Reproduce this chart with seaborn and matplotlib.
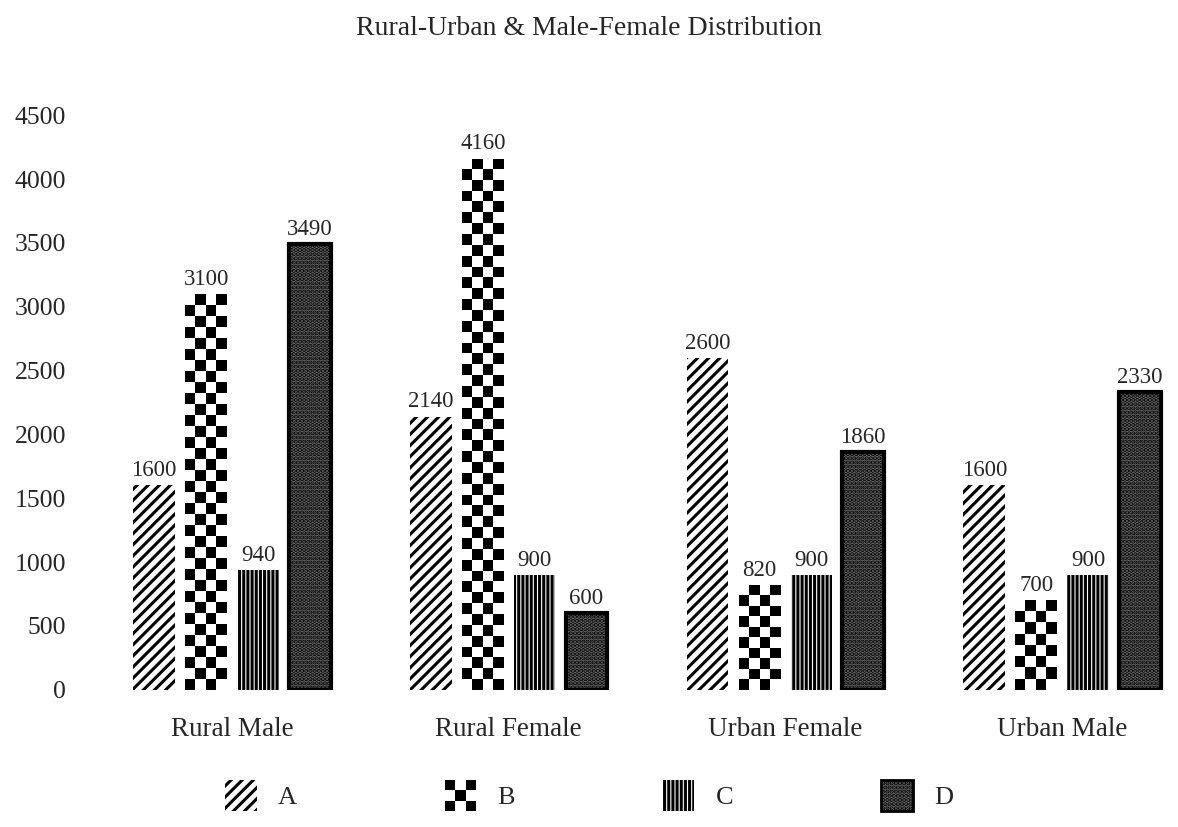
import numpy as np
import pandas as pd
import matplotlib
matplotlib.use("Agg")
import matplotlib.pyplot as plt
import matplotlib.patches as mpatches
from matplotlib.legend_handler import HandlerPatch
import seaborn as sns

# datos
grupos = ["Rural Male", "Rural Female", "Urban Female", "Urban Male"]
series = ["A", "B", "C", "D"]
valores_a = [1600, 2140, 2600, 1600]
valores_b = [3100, 4160, 820, 700]
valores_c = [940, 900, 900, 900]
valores_d = [3490, 600, 1860, 2330]

df = pd.DataFrame({
    "grupo": grupos * 4,
    "serie": [s for s in series for _ in grupos],
    "valor": valores_a + valores_b + valores_c + valores_d,
})

sns.set_style("white")
plt.rcParams["font.family"] = ["Liberation Serif", "DejaVu Serif"]
plt.rcParams["hatch.linewidth"] = 2.2

fig = plt.figure(figsize=(11.78, 8.27), dpi=100)
ax = fig.add_axes([0.068, 0.166, 0.932, 0.761])

sns.barplot(data=df, x="grupo", y="valor", hue="serie", order=grupos,
            hue_order=series, palette=["white"] * 4, width=0.75, gap=0.2,
            legend=False, ax=ax)

# tablero para la serie B
tablero = (np.add.outer(np.arange(60), np.arange(4)) % 2).astype(float)

for i, cont in enumerate(ax.containers):
    for bar in cont:
        if i == 0:
            bar.set_facecolor("white")
            bar.set_edgecolor("black")
            bar.set_linewidth(0)
            bar.set_hatch("///")
        elif i == 1:
            bar.set_facecolor("white")
            bar.set_linewidth(0)
            x0, w, h = bar.get_x(), bar.get_width(), bar.get_height()
            filas = int(round(h / 85))
            img = ax.imshow(tablero[:filas], cmap="gray_r", interpolation="nearest",
                            extent=[x0, x0 + w, 0, h], aspect="auto", zorder=2)
            img.set_clip_path(bar)
        elif i == 2:
            bar.set_facecolor("white")
            bar.set_edgecolor("black")
            bar.set_linewidth(0)
            bar.set_hatch("||||")
        else:
            bar.set_facecolor("#6f6f6f")
            bar.set_edgecolor("black")
            bar.set_linewidth(3)
            bar.set_hatch("....")
    ax.bar_label(cont, fontsize=16.5, padding=3)

ax.set_xlim(-0.549, 3.419)
ax.set_ylim(0, 4930)
ax.set_yticks(range(0, 5000, 500))
ax.set_xlabel("")
ax.set_ylabel("")
ax.tick_params(axis="y", length=0, labelsize=18.5, pad=10)
ax.tick_params(axis="x", length=0, labelsize=19.5, pad=20)
sns.despine(ax=ax, left=True, bottom=True)

fig.text(0.5, 0.965, "Rural-Urban & Male-Female Distribution",
         ha="center", va="center", fontsize=20)


class HandlerTablero(HandlerPatch):
    def create_artists(self, legend, orig_handle, xdescent, ydescent,
                       width, height, fontsize, trans):
        arts = []
        n = 3
        cw, ch = width / n, height / n
        for r in range(n):
            for c in range(n):
                color = "black" if (r + c) % 2 == 0 else "white"
                p = mpatches.Rectangle((-xdescent + c * cw, -ydescent + r * ch),
                                       cw, ch, facecolor=color, linewidth=0,
                                       transform=trans)
                arts.append(p)
        return arts


h_a = mpatches.Patch(facecolor="white", edgecolor="black", linewidth=0, hatch="///")
h_b = mpatches.Patch(facecolor="black")
h_c = mpatches.Patch(facecolor="white", edgecolor="black", linewidth=0, hatch="||||")
h_d = mpatches.Patch(facecolor="#6f6f6f", edgecolor="black", linewidth=2, hatch="....")

fig.legend([h_a, h_b, h_c, h_d], series, loc="center",
           bbox_to_anchor=(0.50, 0.038), ncol=4, frameon=False, fontsize=19,
           handlelength=1.2, handleheight=1.4, columnspacing=5.6,
           handler_map={h_b: HandlerTablero()})

fig.savefig("out.png", dpi=100)
